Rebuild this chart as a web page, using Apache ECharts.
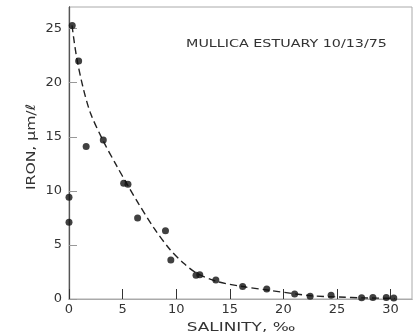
<!DOCTYPE html>
<html>
<head>
<meta charset="utf-8">
<script src="https://cdn.jsdelivr.net/npm/echarts@6/dist/echarts.min.js"></script>
<style>html,body{margin:0;padding:0;background:#fff;}#c{width:414px;height:336px;}</style>
</head>
<body>
<div id="c"></div>
<script>
// Observed samples (salinity ‰, iron µm/ℓ)
var salinity = [0.3, 0.9, 1.6, 3.2, 5.1, 5.5, 0.0, 0.0, 6.4, 9.0, 9.5, 11.85, 12.2, 13.7, 16.2, 18.45, 21.05, 22.5, 24.45, 27.3, 28.35, 29.6, 30.3];
var iron     = [25.3, 22.0, 14.1, 14.7, 10.7, 10.6, 9.4, 7.1, 7.5, 6.3, 3.6, 2.2, 2.25, 1.75, 1.15, 0.93, 0.46, 0.25, 0.34, 0.12, 0.15, 0.15, 0.1];
// Hand-drawn dashed curve
var curveX = [0.28, 0.7, 1.3, 2.0, 3.2, 4.4, 5.6, 6.5, 7.9, 9.4, 10.7, 11.9, 13.7, 16.2, 18.5, 21.2, 22.6, 25.2, 27.5, 30.4];
var curveY = [25.3, 22.4, 19.6, 17.2, 14.6, 12.4, 10.3, 8.8, 6.6, 4.6, 3.3, 2.4, 1.65, 1.15, 0.83, 0.46, 0.3, 0.18, 0.1, 0.06];
var xTicks = [0, 5, 10, 15, 20, 25, 30];
var yTicks = [0, 5, 10, 15, 20, 25];
var titleText = 'MULLICA ESTUARY 10/13/75';
var xName = 'SALINITY, ‰';
var yName = 'IRON, μm/ℓ';

var pts = salinity.map(function (s, i) { return [s, iron[i]]; });
var curve = curveX.map(function (s, i) { return [s, curveY[i]]; });

var chart = echarts.init(document.getElementById('c'), null, { renderer: 'canvas' });
var font = 'DejaVu Sans';
chart.setOption({
  animation: false,
  backgroundColor: '#fff',
  grid: { left: 69, right: 2, top: 7, bottom: 37, show: true, borderColor: '#aaa', borderWidth: 1 },
  xAxis: [{
    type: 'value', min: 0, max: 32, interval: 5,
    axisLine: { lineStyle: { color: '#888', width: 1 } },
    axisTick: { inside: true, length: 10, lineStyle: { color: '#333' }, customValues: xTicks },
    axisLabel: { customValues: xTicks, color: '#333', fontFamily: font, fontSize: 13, margin: 4,
      formatter: function (v) { return xTicks.indexOf(v) >= 0 ? String(v) : ''; } },
    splitLine: { show: false }
  }, {
    type: 'value', position: 'top', min: 0, max: 32,
    axisLine: { show: true, lineStyle: { color: '#aaa' } },
    axisTick: { show: false }, axisLabel: { show: false }, splitLine: { show: false }
  }],
  yAxis: [{
    type: 'value', min: 0, max: 27, interval: 5,
    axisLine: { lineStyle: { color: '#222', width: 1.2 } },
    axisTick: { inside: true, length: 8, lineStyle: { color: '#999' }, customValues: yTicks },
    axisLabel: { customValues: yTicks, color: '#333', fontFamily: font, fontSize: 13, margin: 7,
      formatter: function (v) { return yTicks.indexOf(v) >= 0 ? String(v) : ''; } },
    splitLine: { show: false }
  }, {
    type: 'value', position: 'right', min: 0, max: 27,
    axisLine: { show: true, lineStyle: { color: '#555' } },
    axisTick: { show: false }, axisLabel: { show: false }, splitLine: { show: false }
  }],
  graphic: [
    { type: 'text', x: 286.5, y: 44, scaleX: 1.3,
      style: { text: titleText, font: '11px "DejaVu Sans"', fill: '#333', align: 'center', verticalAlign: 'middle' } },
    { type: 'text', x: 241, y: 328, scaleX: 1.3,
      style: { text: xName, font: '13px "DejaVu Sans"', fill: '#333', align: 'center', verticalAlign: 'middle' } },
    { type: 'text', x: 32, y: 147, rotation: Math.PI / 2, scaleX: 1.2,
      style: { text: yName, font: '13px "DejaVu Sans"', fill: '#333', align: 'center', verticalAlign: 'middle' } }
  ],
  series: [{
    type: 'line', data: curve, smooth: 0.3, symbol: 'none',
    lineStyle: { color: '#222', width: 1.4, type: [7, 4] }, z: 2
  }, {
    type: 'scatter', data: pts, symbol: 'circle', symbolSize: 7,
    itemStyle: { color: '#111' }, z: 3
  }]
});
</script>
</body>
</html>
